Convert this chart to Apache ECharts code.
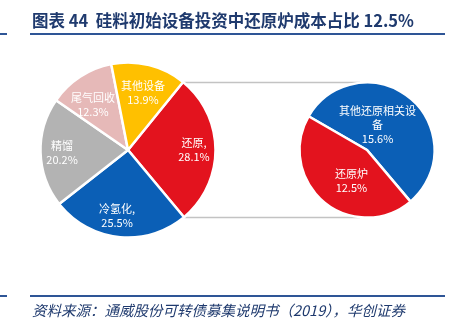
<!DOCTYPE html>
<html><head><meta charset="utf-8">
<script src="https://cdn.jsdelivr.net/npm/echarts@6/dist/echarts.min.js"></script>
<style>html,body{margin:0;padding:0;background:#fff}#c{width:460px;height:331px}</style>
</head><body><div id="c"></div>
<script>
const titleText = '图表 44  硅料初始设备投资中还原炉成本占比 12.5%';
const sourceText = '资料来源：通威股份可转债募集说明书（2019），华创证券';
const mainNames = ['还原,', '冷氢化,', '精馏', '尾气回收', '其他设备'];
const mainValues = [28.1, 25.5, 20.2, 12.3, 13.9];
const subNames = ['其他还原相关设\n备', '还原炉'];
const subValues = [15.6, 12.5];

const mainColors = ['#e3131e', '#0b5fb6', '#b3b3b3', '#e6b9b8', '#ffc000'];
const subColors = ['#0b5fb6', '#e3131e'];

const L = {cx: 128, cy: 150, r: 87.5};
const R = {cx: 367, cy: 150, r: 67.5};
const labelFont = '"Noto Sans CJK SC", sans-serif';
const mainShift = [[0, 0], [-4, 0], [0, 1], [1, 10], [-1, 7]];
const subShift = [[-13, 3], [8, 3]];

const mainData = mainNames.map((n, i) => ({name: n, value: mainValues[i], itemStyle: {color: mainColors[i]}}));
const subData = subNames.map((n, i) => ({name: n, value: subValues[i], itemStyle: {color: subColors[i]}}));

function lineYX(dy) { return L.cx + Math.sqrt(L.r * L.r - dy * dy); }
const dyTop = -R.r, dyBot = R.r;

const chart = echarts.init(document.getElementById('c'), null, {renderer: 'canvas'});
chart.setOption({
  animation: false,
  graphic: [
    {type: 'text', left: 32, top: 12, style: {text: titleText, font: 'bold 16.5px "Noto Sans CJK SC", serif', fill: '#1f3a6e'}},
    {type: 'line', shape: {x1: 30, y1: 34, x2: 445, y2: 34}, style: {stroke: '#2e5596', lineWidth: 2}},
    {type: 'line', shape: {x1: 0, y1: 34, x2: 7, y2: 34}, style: {stroke: '#2e5596', lineWidth: 2}},
    {type: 'line', shape: {x1: 30, y1: 296, x2: 445, y2: 296}, style: {stroke: '#2e5596', lineWidth: 2}},
    {type: 'line', shape: {x1: 0, y1: 296, x2: 7, y2: 296}, style: {stroke: '#2e5596', lineWidth: 2}},
    {type: 'text', left: 32, top: 303, style: {text: sourceText, font: 'italic 14.5px "Noto Sans CJK SC", serif', fill: '#1f3a6e'}},
    {type: 'line', z: -1, shape: {x1: lineYX(dyTop), y1: R.cy + dyTop, x2: R.cx - 7, y2: R.cy + dyTop}, style: {stroke: '#c3c3c3', lineWidth: 1.5}},
    {type: 'line', z: -1, shape: {x1: lineYX(dyBot), y1: R.cy + dyBot, x2: R.cx - 7, y2: R.cy + dyBot}, style: {stroke: '#c3c3c3', lineWidth: 1.5}}
  ],
  series: [
    {
      type: 'pie', center: [L.cx, L.cy], radius: [0, L.r], startAngle: 51, clockwise: true,
      data: mainData, label: {show: false}, labelLine: {show: false},
      itemStyle: {borderColor: '#fff', borderWidth: 2.5}, silent: true
    },
    {
      type: 'pie', center: [L.cx, L.cy], radius: [L.r * 0.44, L.r], startAngle: 51, clockwise: true,
      data: mainData.map(d => ({name: d.name, value: d.value})),
      itemStyle: {color: 'rgba(0,0,0,0)'}, silent: true, z: 5,
      label: {show: true, position: 'inside', color: '#fff', fontFamily: labelFont, fontSize: 11, lineHeight: 14,
        formatter: p => p.name + '\n' + p.value.toFixed(1) + '%'},
      labelLine: {show: false},
      labelLayout: p => ({dx: mainShift[p.dataIndex][0], dy: mainShift[p.dataIndex][1]})
    },
    {
      type: 'pie', center: [R.cx, R.cy], radius: [0, R.r], startAngle: 150, clockwise: true,
      data: subData,
      itemStyle: {borderColor: '#fff', borderWidth: 2.5}, silent: true,
      label: {show: true, position: 'inside', color: '#fff', fontFamily: labelFont, fontSize: 11, lineHeight: 14,
        formatter: p => p.name + '\n' + p.value.toFixed(1) + '%'},
      labelLine: {show: false},
      labelLayout: p => ({dx: subShift[p.dataIndex][0], dy: subShift[p.dataIndex][1]})
    }
  ]
});
</script></body></html>
